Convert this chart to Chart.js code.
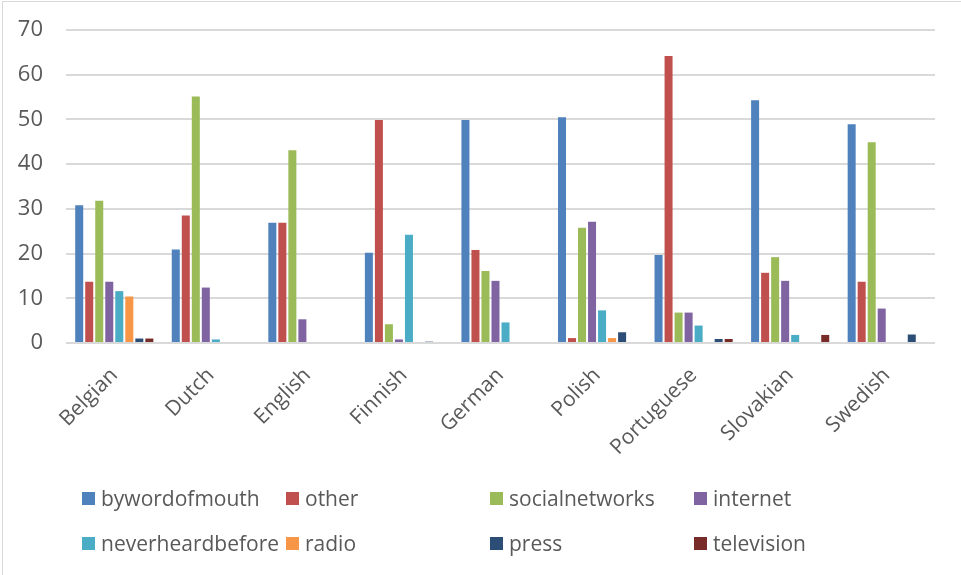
<!DOCTYPE html>
<html>
<head>
<meta charset="utf-8">
<title>How people heard about it</title>
<script src="https://cdn.jsdelivr.net/npm/chart.js@4.4.1/dist/chart.umd.min.js"></script>
<style>
    html, body { margin: 0; padding: 0; background: #fff; overflow: hidden; }
    #frame { position: absolute; left: 2px; top: 1px; width: 1000px; height: 1000px; border: 1px solid #d9d9d9; box-sizing: border-box; }
    #wrap { position: absolute; left: 0; top: 0; width: 961px; height: 575px; }
    #legend { position: absolute; left: 82px; top: 485px; display: grid; grid-template-columns: repeat(4, 204px); row-gap: 19px; }
    .item { display: flex; align-items: center; height: 26px; font: 21px 'Open Sans', sans-serif; color: #595959; white-space: nowrap; }
    .box { width: 13px; height: 13px; margin-right: 6px; flex: none; }
</style>
</head>
<body>
<div id="frame"></div>
<div id="wrap"><canvas id="chart"></canvas></div>
<div id="legend"></div>
<script>
const categories = ['Belgian', 'Dutch', 'English', 'Finnish', 'German', 'Polish', 'Portuguese', 'Slovakian', 'Swedish'];

const bywordofmouth    = [30.8, 20.9, 26.9, 20.2, 49.9, 50.5, 19.7, 54.3, 48.9];
const other            = [13.7, 28.5, 26.9, 49.9, 20.8,  1.1, 64.2, 15.7, 13.7];
const socialnetworks   = [31.8, 55.1, 43.1,  4.2, 16.1, 25.8,  6.8, 19.2, 44.9];
const internet         = [13.7, 12.4,  5.3,  0.8, 13.9, 27.1,  6.8, 13.9,  7.7];
const neverheardbefore = [11.6,  0.8,  0,   24.2,  4.6,  7.3,  3.9,  1.8,  0];
const radio            = [10.4,  0,    0,    0,    0,    1.1,  0,    0,    0];
const press            = [ 1.0,  0,    0,    0.3,  0,    2.4,  0.9,  0,    1.9];
const television       = [ 1.0,  0,    0,    0,    0,    0,    0.9,  1.8,  0];

const yTicks = [0, 10, 20, 30, 40, 50, 60, 70];

const series = [
    { label: 'bywordofmouth', data: bywordofmouth, color: '#4f81bd' },
    { label: 'other', data: other, color: '#c0504d' },
    { label: 'socialnetworks', data: socialnetworks, color: '#9bbb59' },
    { label: 'internet', data: internet, color: '#8064a2' },
    { label: 'neverheardbefore', data: neverheardbefore, color: '#4bacc6' },
    { label: 'radio', data: radio, color: '#f79646' },
    { label: 'press', data: press, color: '#2c4d75' },
    { label: 'television', data: television, color: '#772c2a' }
];

const textColor = '#595959';
const gridColor = '#d9d9d9';

// builds the legend below the canvas as a 4-column grid
const htmlLegend = {
    id: 'htmlLegend',
    afterUpdate(chart) {
        const box = document.getElementById('legend');
        box.innerHTML = '';
        chart.data.datasets.forEach(ds => {
            const item = document.createElement('div');
            item.className = 'item';
            item.innerHTML = `<span class="box" style="background:${ds.backgroundColor}"></span><span>${ds.label}</span>`;
            box.appendChild(item);
        });
    }
};

new Chart(document.getElementById('chart'), {
    type: 'bar',
    data: {
        labels: categories,
        datasets: series.map(s => ({
            label: s.label,
            data: s.data,
            backgroundColor: s.color,
            borderWidth: 0,
            categoryPercentage: 0.83,
            barPercentage: 0.8
        }))
    },
    options: {
        responsive: true,
        maintainAspectRatio: false,
        animation: false,
        layout: { padding: { top: 30, right: 26, bottom: 80, left: 0 } },
        plugins: {
            legend: { display: false },
            tooltip: { enabled: false }
        },
        scales: {
            x: {
                grid: { display: false },
                border: { display: false },
                ticks: {
                    color: textColor,
                    font: { family: 'Open Sans', size: 21 },
                    minRotation: 45,
                    maxRotation: 45,
                    autoSkip: false,
                    padding: 12
                },
                afterFit(scale) { scale.height = 152; }
            },
            y: {
                min: 0,
                max: 70,
                afterBuildTicks(scale) { scale.ticks = yTicks.map(v => ({ value: v })); },
                // invisible tick marks keep the labels clear of the plot
                grid: { color: gridColor, lineWidth: 2, tickLength: 23, tickColor: 'rgba(0,0,0,0)' },
                border: { display: false },
                ticks: {
                    color: textColor,
                    font: { family: 'Open Sans', size: 22 },
                    padding: 0
                },
                afterFit(scale) { scale.width = 66; }
            }
        }
    },
    plugins: [htmlLegend]
});
</script>
</body>
</html>
